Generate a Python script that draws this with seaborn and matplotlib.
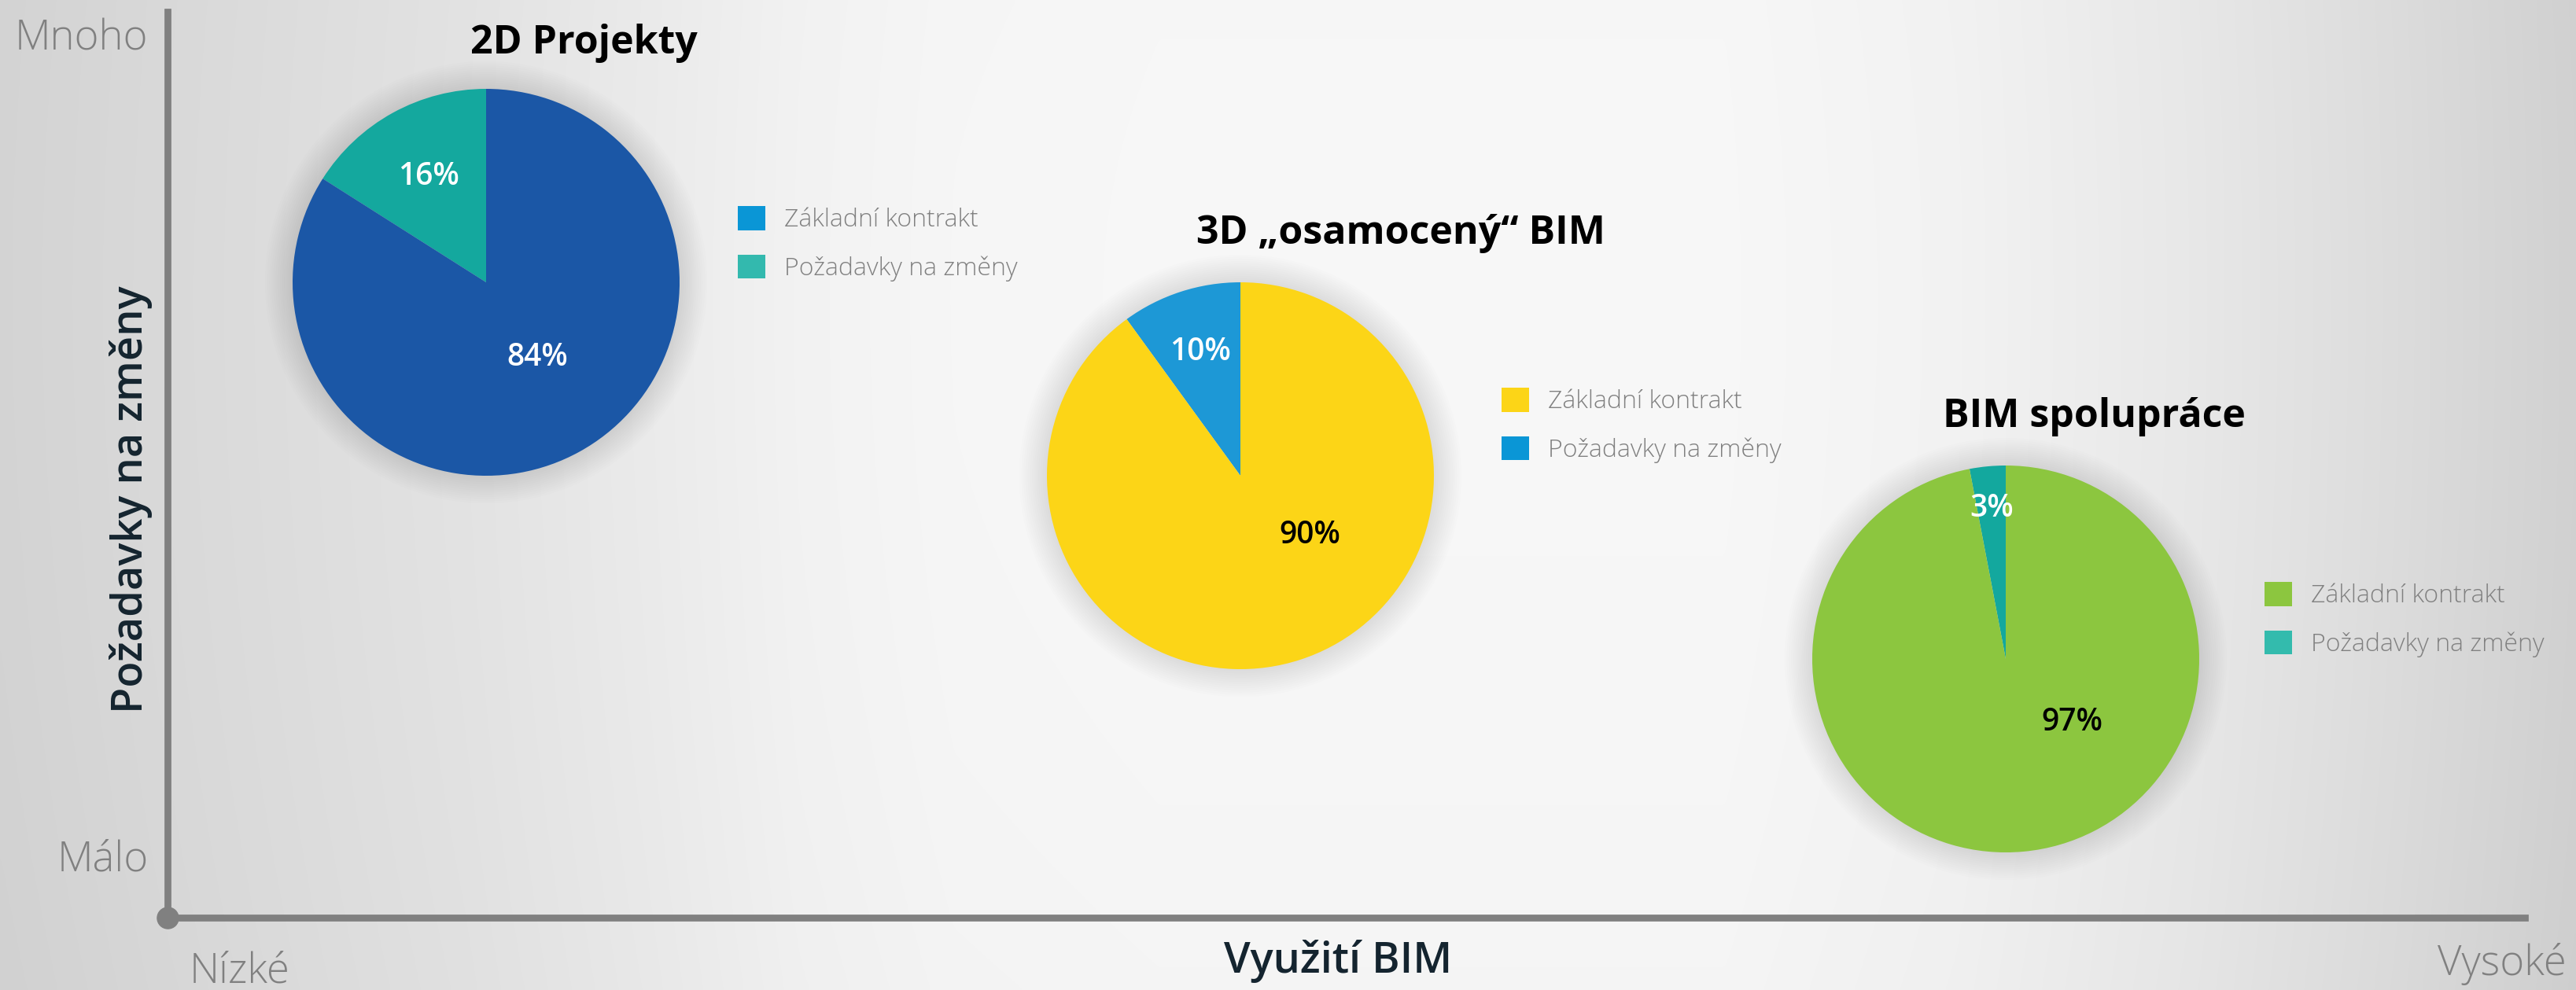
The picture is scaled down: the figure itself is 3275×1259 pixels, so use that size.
import numpy as np
import matplotlib
matplotlib.use('Agg')
import matplotlib.pyplot as plt
from matplotlib.patches import Patch, Circle
import seaborn as sns

# ---------------- data ----------------
titles = ['2D Projekty', '3D „osamocený“ BIM', 'BIM spolupráce']
slice_labels = ['Základní kontrakt', 'Požadavky na změny']
base_contract = [84, 90, 97]
change_requests = [16, 10, 3]
x_axis_title = 'Využití BIM'
y_axis_title = 'Požadavky na změny'
x_ends = ['Nízké', 'Vysoké']
y_ends = ['Málo', 'Mnoho']

# ---------------- colours ----------------
pie_base_colors = ['#1b57a6', '#fcd517', '#8cc63f']
pie_change_colors = ['#14a89e', '#1d98d6', '#13a89e']
legend_base_colors = ['#0a96d6', '#fcd517', '#8cc63f']
legend_change_colors = ['#33b9ae', '#0a96d6', '#33bbad']
base_text_colors = ['white', 'black', 'black']
AXIS_GREY = '#808080'
DARK = '#14242f'

# ---------------- layout (pixels) ----------------
W, H = 3275, 1259
pie_centers = [(618, 359), (1577, 605), (2550, 838)]
R = 246
title_pos = [(742, 68), (1781, 310), (2662, 543)]
legend_pos = [(938, 310), (1909, 541), (2879, 788)]
pct_dist = [0.62, 0.67, 0.78]
big_label_off = [(0.265, -0.39), (0.36, -0.31), (0.345, -0.33)]
AX_L, AX_R, AX_T, AX_B = 213, 3210, 15, 1167


def fx(x):
    return x / W


def fy(y):
    return 1 - y / H


sns.set_theme(style='white')
plt.rcParams['font.family'] = ['Open Sans', 'DejaVu Sans']

fig = plt.figure(figsize=(W / 100, H / 100), dpi=100)

# ---- background gradient ----
bg = fig.add_axes([0, 0, 1, 1])
xs = np.linspace(0, 1, 800)
ys = np.linspace(0, 1, 300)
X, Y = np.meshgrid(xs, ys)
prof = np.interp(X, [0, 0.06, 0.12, 0.18, 0.25, 0.31, 0.37, 0.45, 0.67, 0.76, 0.85, 0.92, 1.0],
                 [0.83, 0.85, 0.87, 0.89, 0.92, 0.95, 0.965, 0.97, 0.97, 0.95, 0.91, 0.87, 0.82])
prof = prof - 0.02 * (Y - 0.3) ** 2
img = np.dstack([prof, prof, prof])
bg.imshow(img, extent=[0, 1, 0, 1], aspect='auto', origin='upper', interpolation='bicubic')
bg.set_axis_off()
bg.set_zorder(-10)

# ---- main quadrant axes ----
ax = fig.add_axes([fx(AX_L), fy(AX_B), (AX_R - AX_L) / W, (AX_B - AX_T) / H])
ax.set_facecolor('none')
ax.set_xlim(0, 1)
ax.set_ylim(0, 1)
sns.despine(ax=ax)
for s in ('left', 'bottom'):
    ax.spines[s].set_color(AXIS_GREY)
    ax.spines[s].set_linewidth(6.3)
ax.set_xticks([])
ax.set_yticks([])
ax.plot([0], [0], 'o', color=AXIS_GREY, ms=19.5, transform=ax.transAxes, clip_on=False)

ax.set_xlabel(x_axis_title, fontsize=39, fontweight='semibold', color=DARK)
ax.xaxis.set_label_coords(0.4965, -(1237 - AX_B) / (AX_B - AX_T))
ax.xaxis.label.set_va('baseline')
ax.set_ylabel(y_axis_title, fontsize=39, fontweight='semibold', color=DARK)
ax.yaxis.set_label_coords(-(AX_L - 167) / (AX_R - AX_L), (AX_B - 635) / (AX_B - AX_T))
ax.yaxis.label.set_va('center')

end_kw = dict(fontsize=38, color=AXIS_GREY, fontweight='light')
fig.text(fx(188), fy(63), y_ends[1], ha='right', va='baseline', **end_kw)
fig.text(fx(189), fy(1107), y_ends[0], ha='right', va='baseline', **end_kw)
fig.text(fx(241), fy(1250), x_ends[0], ha='left', va='baseline', **end_kw)
fig.text(fx(3263), fy(1240), x_ends[1], ha='right', va='baseline', **end_kw)

# ---- pies ----
LIM = 1.3
S = 2 * R * LIM
for i in range(3):
    cx, cy = pie_centers[i]
    pa = fig.add_axes([fx(cx - S / 2), fy(cy + S / 2), S / W, S / H])
    pa.set_axis_off()
    # soft shadow
    for k in range(1, 14):
        pa.add_patch(Circle((0, 0), 1 + 0.011 * k, color='black', alpha=0.008, lw=0, zorder=0))
    wedges, _, autotexts = pa.pie(
        [change_requests[i], base_contract[i]],
        colors=[pie_change_colors[i], pie_base_colors[i]],
        startangle=90, counterclock=True,
        autopct=lambda p: f'{p:.0f}%', pctdistance=pct_dist[i],
        wedgeprops=dict(linewidth=0),
        textprops=dict(fontsize=28, fontweight='semibold'))
    for w in wedges:
        w.set_zorder(2)
    autotexts[0].set_color('white')
    autotexts[1].set_color(base_text_colors[i])
    autotexts[1].set_position(big_label_off[i])
    for t in autotexts:
        t.set_zorder(3)
    pa.set_xlim(-LIM, LIM)
    pa.set_ylim(-LIM, LIM)
    pa.set_aspect('equal')

    fig.text(fx(title_pos[i][0]), fy(title_pos[i][1]), titles[i], ha='center', va='baseline',
             fontsize=36, fontweight='bold', color='black')

    handles = [Patch(facecolor=legend_base_colors[i], edgecolor='none'),
               Patch(facecolor=legend_change_colors[i], edgecolor='none')]
    leg = pa.legend(handles, slice_labels, loc='center left',
                    bbox_to_anchor=(fx(legend_pos[i][0]), fy(legend_pos[i][1])),
                    bbox_transform=fig.transFigure, frameon=False,
                    prop=dict(size=23, weight='light'),
                    handlelength=1.1, handleheight=1.1, handletextpad=0.75,
                    labelspacing=0.85, borderpad=0, borderaxespad=0)
    for t in leg.get_texts():
        t.set_color(AXIS_GREY)

fig.savefig('out.png', dpi=100)
